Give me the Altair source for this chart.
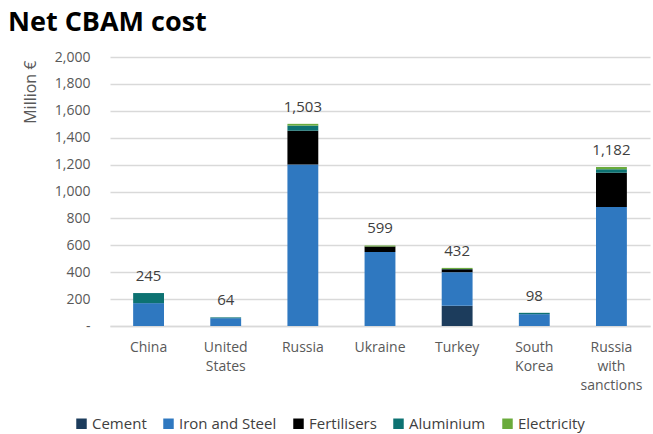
import altair as alt
import pandas as pd

countries = ["China", "United|States", "Russia", "Ukraine", "Turkey", "South|Korea", "Russia|with|sanctions"]
sectors = ["Cement", "Iron and Steel", "Fertilisers", "Aluminium", "Electricity"]
colors = ["#1c3c5c", "#2f78c0", "#000000", "#0d7272", "#6aab3c"]

cement      = [0,   0,  0,    0,   150, 0,  0]
iron_steel  = [170, 58, 1200, 550, 250, 88, 885]
fertilisers = [0,   0,  252,  41,  22,  0,  255]
aluminium   = [75,  6,  38,   0,   2,   10, 25]
electricity = [0,   0,  13,   8,   8,   0,  17]
totals      = [245, 64, 1503, 599, 432, 98, 1182]

series = [cement, iron_steel, fertilisers, aluminium, electricity]
rows = []
for si, (name, vals) in enumerate(zip(sectors, series)):
    for c, v in zip(countries, vals):
        rows.append({"country": c, "sector": name, "value": v, "ord": si})
df = pd.DataFrame(rows)
tot = pd.DataFrame({"country": countries, "total": totals})

FONT = "Open Sans"

x_axis = alt.Axis(labelExpr="split(datum.label, '|')", labelAngle=0,
                  labelFontSize=14, labelColor="#595959", labelFont=FONT,
                  labelPadding=14, labelLineHeight=19, labelBaseline="top",
                  ticks=False, domainColor="#d9d9d9", domainWidth=1.5)
x_scale = alt.Scale(paddingInner=0.6, paddingOuter=0.3)

y_axis = alt.Axis(values=list(range(0, 2001, 200)), labelOverlap=False,
                  labelExpr="datum.value == 0 ? '-' : format(datum.value, ',')",
                  labelFontSize=14, labelColor="#595959", labelFont=FONT,
                  labelPadding=20, ticks=False, domain=False,
                  gridColor="#d9d9d9", gridWidth=1.5,
                  titleFontSize=16, titleFont=FONT, titleFontWeight="normal",
                  titleColor="#595959", titleAngle=-90, titleX=-80, titleY=3,
                  titleAlign="right", titleBaseline="middle")
y_scale = alt.Scale(domain=[0, 2000], nice=False)

bars = alt.Chart(df).mark_bar().encode(
    x=alt.X("country:N", sort=countries, title=None, scale=x_scale, axis=x_axis),
    y=alt.Y("value:Q", stack="zero", title="Million €", scale=y_scale, axis=y_axis),
    color=alt.Color("sector:N", sort=sectors,
                    scale=alt.Scale(domain=sectors, range=colors),
                    legend=alt.Legend(title=None, orient="none", direction="horizontal",
                                      columns=5, legendX=-36, legendY=359,
                                      symbolType="square", symbolSize=110,
                                      symbolStrokeWidth=0,
                                      labelFontSize=15, labelFont=FONT, labelColor="#404040",
                                      columnPadding=14, symbolOffset=0, labelOffset=3)),
    order=alt.Order("ord:Q", sort="ascending"),
)

labels = alt.Chart(tot).mark_text(baseline="bottom", dy=-9, fontSize=15, font=FONT,
                                  color="#404040").encode(
    x=alt.X("country:N", sort=countries, title=None, scale=x_scale, axis=x_axis),
    y=alt.Y("total:Q", title="Million €", scale=y_scale, axis=y_axis),
    text=alt.Text("total:Q", format=","),
)

chart = (bars + labels).properties(
    width=540, height=269,
    title=alt.Title("Net CBAM cost", anchor="start", frame="group", fontSize=27, font=FONT,
                    fontWeight="bold", color="#000000", dx=-102, offset=13),
    autosize=alt.AutoSizeParams(type="none"),
    padding={"left": 110, "top": 57, "right": 3, "bottom": 108},
).configure_view(stroke=None)

chart.save("out.html", embed_options={"renderer": "svg", "actions": False})
